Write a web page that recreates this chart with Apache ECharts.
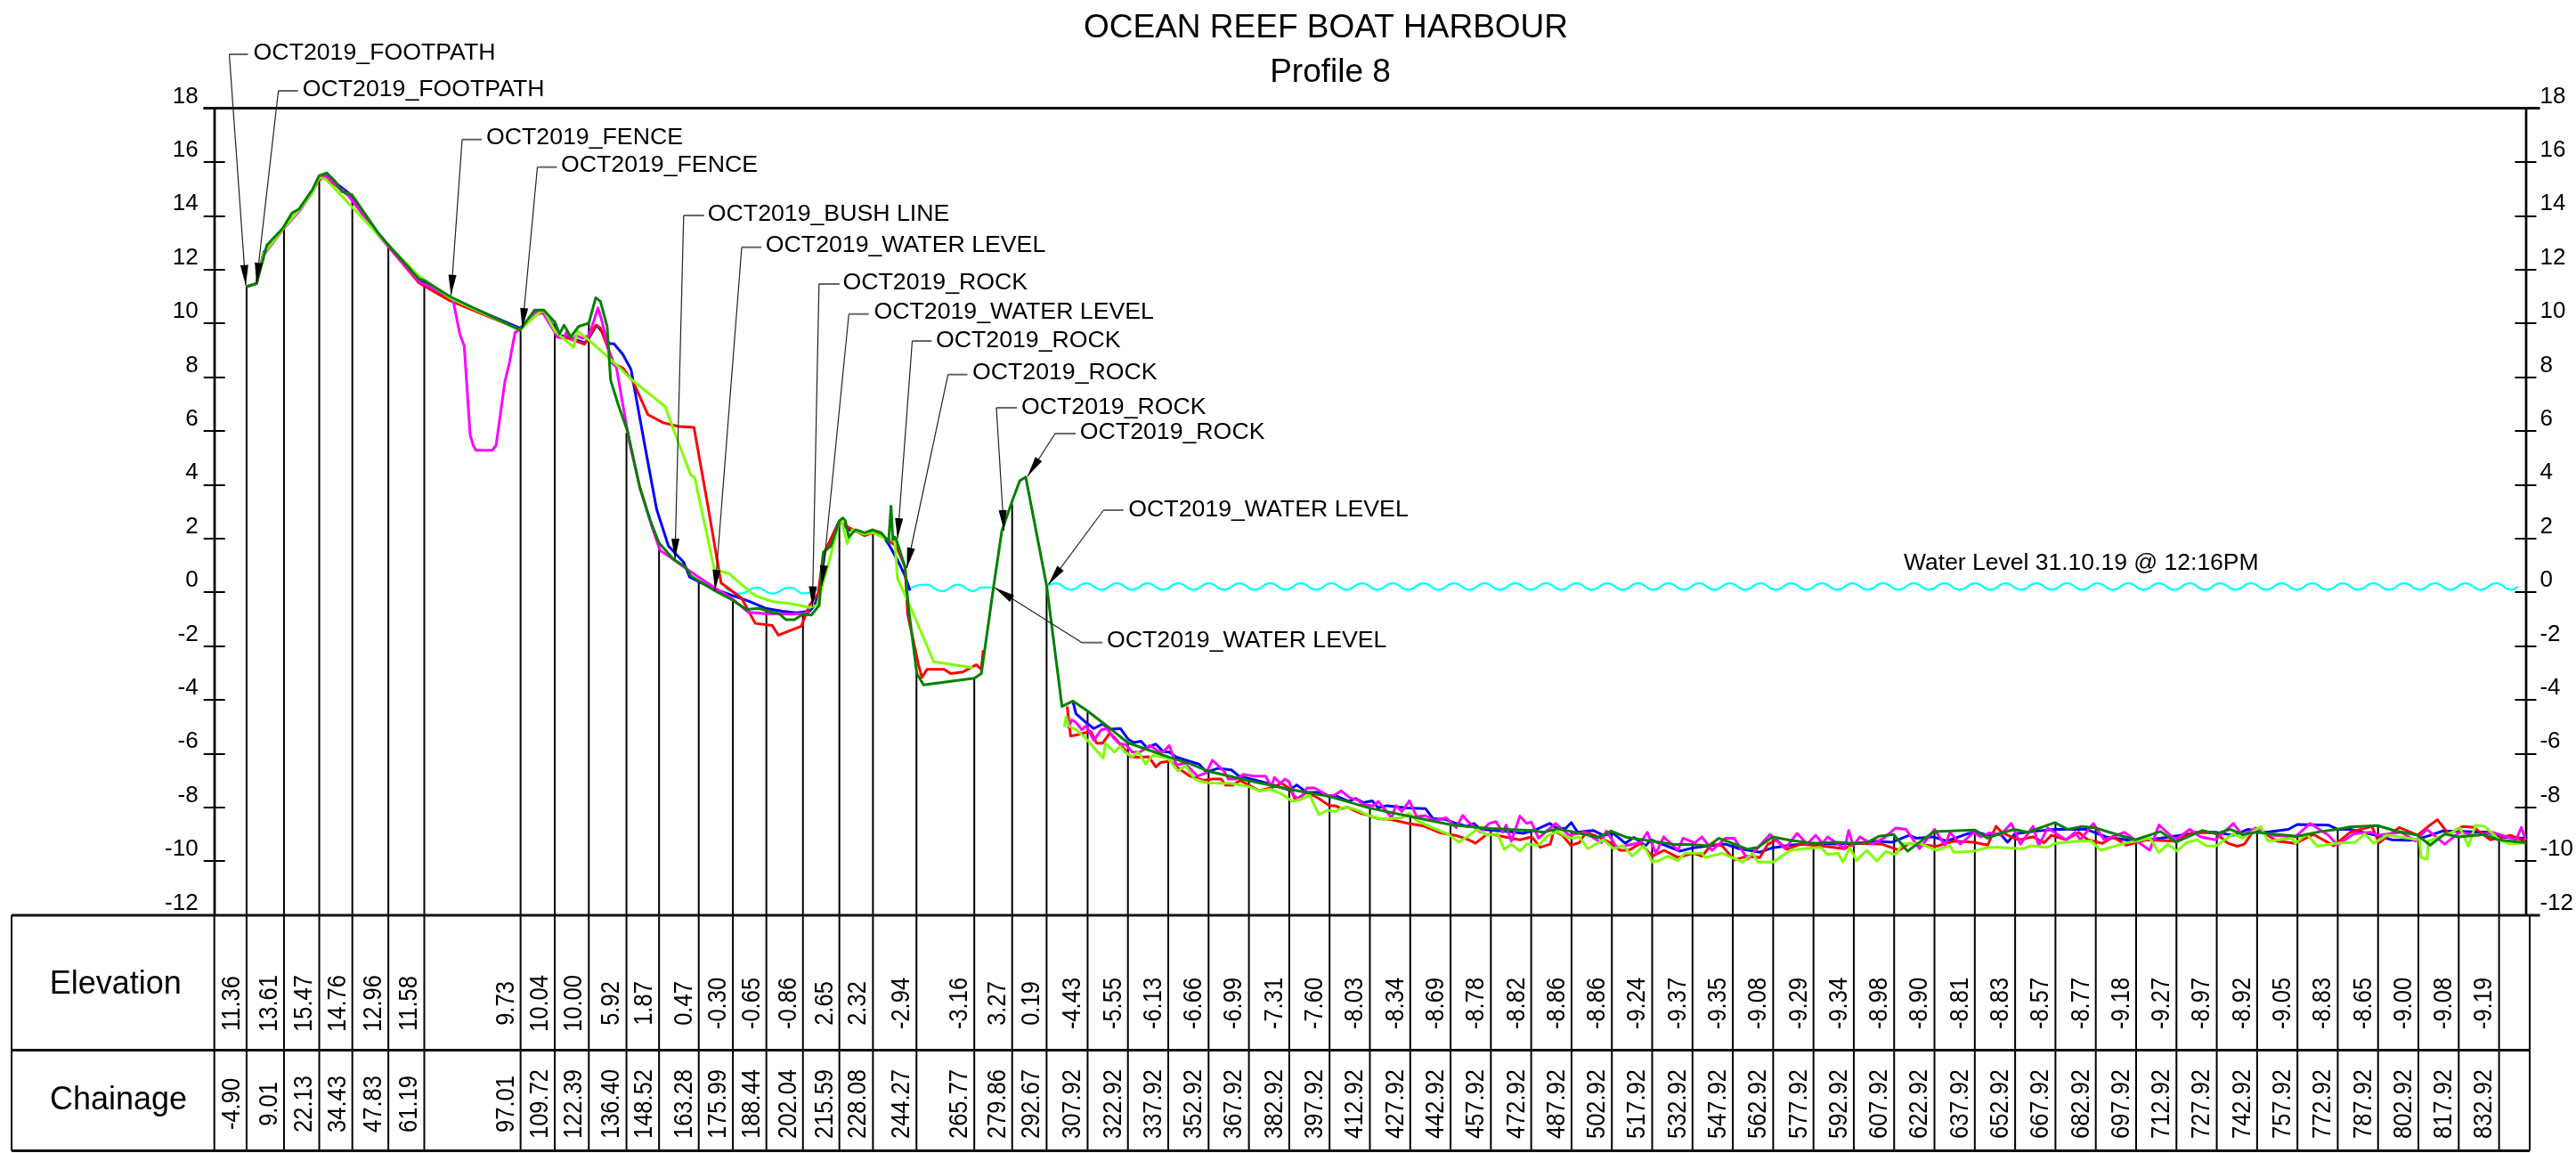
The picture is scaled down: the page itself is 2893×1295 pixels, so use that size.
<!DOCTYPE html>
<html>
<head>
<meta charset="utf-8">
<style>html,body{margin:0;padding:0;background:#fff}#c{width:2893px;height:1295px}</style>
<script src="https://cdn.jsdelivr.net/npm/echarts@6/dist/echarts.min.js"></script>
</head>
<body>
<div id="c"></div>
<script>
const chartTitle = 'OCEAN REEF BOAT HARBOUR';
const chartSubtitle = 'Profile 8';
const rowNames = ['Elevation', 'Chainage'];
const waterNote = 'Water Level 31.10.19 @ 12:16PM';

const chainages = [-4.90,9.01,22.13,34.43,47.83,61.19,97.01,109.72,122.39,136.40,148.52,163.28,175.99,188.44,202.04,215.59,228.08,244.27,265.77,279.86,292.67,307.92,322.92,337.92,352.92,367.92,382.92,397.92,412.92,427.92,442.92,457.92,472.92,487.92,502.92,517.92,532.92,547.92,562.92,577.92,592.92,607.92,622.92,637.92,652.92,667.92,682.92,697.92,712.92,727.92,742.92,757.92,772.92,787.92,802.92,817.92,832.92];
const elevations = [11.36,13.61,15.47,14.76,12.96,11.58,9.73,10.04,10.00,5.92,1.87,0.47,-0.30,-0.65,-0.86,2.65,2.32,-2.94,-3.16,3.27,0.19,-4.43,-5.55,-6.13,-6.66,-6.99,-7.31,-7.60,-8.03,-8.34,-8.69,-8.78,-8.82,-8.86,-8.86,-9.24,-9.37,-9.35,-9.08,-9.29,-9.34,-8.98,-8.90,-8.81,-8.83,-8.57,-8.77,-9.18,-9.27,-8.97,-8.92,-9.05,-8.83,-8.65,-9.00,-9.08,-9.19];

const greenProfile = [[-4.92,11.36],[-1.2,11.48],[0.14,11.98],[2.67,12.91],[8.6,13.54],[11.95,14.1],[14.5,14.24],[19.5,14.96],[22.07,15.49],[24.94,15.59],[27.97,15.29],[30.5,14.9],[34.2,14.79],[44,13.36],[47.9,12.91],[59.2,11.65],[61.2,11.59],[71,10.98],[96.8,9.75],[102.2,10.49],[105.6,10.49],[109.8,10.04],[111.5,9.6],[113.2,9.93],[115.7,9.49],[118.6,9.88],[122.4,10.01],[124.97,10.95],[126.7,10.82],[129.2,9.88],[130.5,7.89],[133.4,6.95],[136.8,5.99],[141.3,3.92],[145.1,2.71],[148.5,1.83],[153.9,1.22],[158.4,0.94],[160.3,0.61],[169.1,0.06],[175.4,-0.27],[181.1,-0.64],[185.6,-0.6],[190.6,-0.74],[193.2,-0.8],[195.7,-1.02],[198.9,-1.02],[202,-0.82],[205.2,-0.85],[208.1,-0.49],[209.6,1.49],[212.4,1.71],[215.6,2.65],[216.9,2.76],[217.8,2.65],[219.1,2.05],[221.6,2.32],[225,2.21],[228.1,2.32],[231.1,2.21],[233.9,1.88],[234.8,3.2],[235.5,1.94],[236.2,2.05],[236.8,1.94],[240,0.94],[241.2,-0.49],[244.4,-3.03],[246.9,-3.45],[265.8,-3.2],[268.4,-3.03],[272.9,0.17],[276,2.27],[279.8,3.37],[282.7,4.14],[284.9,4.28],[292.7,0.23],[298.4,-4.25],[302.5,-4.05],[307.75,-4.41],[315.7,-5.02],[322.85,-5.6],[330,-5.85],[337.7,-6.12],[346.5,-6.4],[353.2,-6.67],[367.5,-7],[382.9,-7.33],[397.9,-7.6],[412.9,-8.03],[427.9,-8.34],[442.9,-8.65],[449,-8.71],[457.7,-8.79],[472.8,-8.86],[477.5,-8.93],[482.6,-8.8],[487.8,-8.9],[497.8,-9.12],[502.6,-8.88],[508.5,-9.12],[517.8,-9.26],[526.2,-9.38],[532.8,-9.38],[538.9,-9.43],[542.7,-9.15],[547.7,-9.34],[553.4,-9.56],[557.2,-9.49],[562.7,-9.1],[569.3,-9.23],[577.7,-9.34],[587,-9.3],[592.8,-9.34],[597.7,-9.32],[602.2,-9.08],[607.7,-9.01],[612.9,-9.63],[622.8,-8.9],[638,-8.85],[642.7,-9.15],[647.4,-8.97],[652.6,-8.82],[657.6,-8.93],[667.7,-8.57],[672.5,-8.82],[677.9,-8.71],[682.9,-8.77],[689.4,-8.97],[697.6,-9.21],[707,-8.9],[712.7,-9.3],[722.6,-8.86],[727.6,-8.99],[732.8,-8.82],[737.5,-9.01],[742.7,-8.93],[750.4,-9.01],[757.9,-9.08],[766.7,-8.9],[772.8,-8.82],[777.5,-8.73],[787.7,-8.68],[794.4,-8.88],[802.6,-9.04],[807.3,-9.41],[812.7,-8.99],[817.7,-9.1],[827.6,-9.01],[832.6,-9.21],[842.8,-9.32]];

const blueProfile = [[-4.92,11.36],[-1.2,11.48],[1.5,12.64],[8.6,13.52],[14.5,14.2],[19.5,14.9],[22.07,15.4],[24.6,15.5],[33,14.85],[44,13.36],[47.9,12.88],[59.2,11.59],[71,10.93],[96.8,9.82],[103,10.38],[105.6,10.43],[109.8,9.82],[111.5,9.55],[116,9.45],[120.8,9.27],[122.4,9.44],[125.3,9.93],[127.5,9.66],[130,9.24],[131.7,9.24],[135,8.85],[138.1,8.28],[140,7.23],[143.8,5.14],[147.6,3.09],[152,1.72],[157.7,1.11],[159.9,0.56],[169.1,0.11],[181.8,-0.33],[188.1,-0.6],[194.4,-0.71],[199.5,-0.77],[204.5,-0.71],[206.4,-0.49],[208.1,-0.05],[210.2,1.49],[215.6,2.65],[219.1,2.32],[221.6,2.27],[225,2.16],[228.1,2.27],[231.1,2.21],[234.3,1.72],[237.4,1.16],[240,0.61],[241.9,0.06],[null,null],[302.5,-4.08],[303.6,-4.52],[307.4,-4.85],[310.2,-5.07],[313.5,-4.9],[316.2,-5.1],[320.1,-5.07],[322.9,-5.46],[325.1,-5.59],[327.8,-5.54],[330,-5.79],[333.3,-5.65],[336.1,-5.93],[338.3,-5.95],[341,-6.14],[345.5,-6.28],[349.3,-6.39],[352.1,-6.69],[356.5,-6.55],[361.4,-6.61],[364.2,-6.84],[368.6,-6.95],[373,-7.06],[378.5,-7.22],[382.9,-7.36],[385.7,-7.17],[389.5,-7.45],[394,-7.45],[397.8,-7.61],[400,-7.56],[405,-7.78],[407.7,-7.67],[410.5,-7.83],[413.8,-7.76],[416,-8.02],[419.3,-7.94],[427,-8.03],[433.6,-8.05],[436.4,-8.42],[441,-8.45],[445,-8.6],[449,-8.71],[451.6,-8.6],[454.1,-8.82],[457.7,-8.85],[464.2,-8.9],[469.9,-8.97],[475,-8.82],[479.8,-8.6],[482.6,-8.79],[485.7,-8.79],[487.8,-8.57],[490.2,-8.93],[495.9,-8.86],[499.7,-9.04],[503.5,-8.97],[507.9,-9.34],[511.1,-9.12],[515.5,-9.43],[517.4,-9.21],[523.7,-9.45],[528.1,-9.63],[532.6,-9.52],[537.6,-9.45],[545.2,-9.37],[550.3,-9.54],[557.9,-9.67],[562.3,-9.52],[569.3,-9.41],[577.7,-9.34],[585.7,-9.37],[593.3,-9.34],[601.5,-9.26],[607.2,-9.3],[613.5,-9.04],[616.1,-9.15],[622.4,-9.1],[627.5,-9.26],[635,-8.99],[638.9,-8.93],[642.7,-9.04],[647.4,-8.99],[650.1,-9.3],[652.8,-8.99],[659.6,-8.9],[667.7,-8.82],[679.3,-8.82],[686.7,-9.1],[697.6,-9.26],[707,-9.15],[722,-8.93],[727.4,-8.93],[734.1,-9.04],[739.6,-8.82],[746.3,-8.93],[754.5,-8.82],[757.9,-8.64],[769.4,-8.66],[772.8,-8.82],[777.5,-8.82],[787,-9.04],[793.1,-9.21],[799.2,-9.23],[802,-9.21],[807.3,-9.04],[812.1,-8.88],[829,-8.93],[833,-9.1],[842.5,-9.15]];

const redProfile = [[-4.92,11.36],[-1.2,11.48],[1.5,12.6],[8.6,13.5],[14.5,14.2],[19.5,14.88],[22.07,15.34],[24.6,15.42],[33,14.75],[44,13.3],[47.9,12.85],[59.2,11.5],[70.1,10.87],[96.8,9.77],[103,10.33],[105.6,10.4],[109.8,9.77],[110.6,9.49],[114.9,9.44],[120.8,9.22],[122.4,9.49],[125,9.93],[126.7,9.82],[129.2,9.16],[131.7,8.5],[135,8.34],[138.8,7.84],[144.4,6.6],[150.1,6.3],[155.8,6.16],[161.5,6.13],[166.6,3.26],[171.6,0.34],[179.2,-0.22],[184.3,-1.16],[190.6,-1.24],[192.9,-1.6],[201.4,-1.27],[204.5,-0.49],[207.7,-0.05],[209.6,1.38],[215.6,2.65],[219.1,2.4],[225,2.1],[228.1,2.21],[231.1,2.18],[234.3,1.88],[236.8,1.72],[240,0.94],[241,-0.82],[245,-2.7],[246.3,-3.17],[248.2,-2.87],[254.5,-2.87],[257,-3.03],[261.5,-2.97],[266.5,-2.7],[268.4,-2.87],[269.1,-2.15],[null,null],[300.3,-4.25],[301.6,-5.35],[304.7,-5.29],[306.9,-5.23],[309.1,-5.18],[311.3,-5.62],[313.5,-5.62],[316.2,-5.23],[318.4,-5.46],[321.2,-5.79],[324,-6.12],[327.3,-6.14],[330.6,-6.12],[333.3,-6.5],[335,-6.34],[338.8,-6.28],[341,-6.5],[346,-6.84],[351,-7],[354.3,-6.95],[357.6,-6.95],[359.2,-7.17],[362,-7.17],[364.7,-7],[368.6,-7.22],[371.9,-7.39],[377,-7.25],[380,-7.1],[383.5,-7.34],[385.1,-7.72],[389.5,-7.45],[393.9,-7.67],[397.8,-7.94],[400,-7.94],[402.2,-8.05],[404.4,-8],[409.4,-8.22],[412.7,-8.31],[416,-8.42],[421,-8.46],[427,-8.6],[433,-8.7],[439,-8.95],[445,-9.05],[449.7,-9.21],[452.2,-9.34],[456,-9.04],[457.9,-8.99],[463,-9.1],[468.7,-9.21],[473.1,-9.1],[476.3,-9.49],[480,-9.37],[481.3,-8.88],[484.5,-9.04],[487.6,-9.41],[490.8,-9.32],[493.3,-8.93],[497.8,-9.1],[502.2,-9.32],[506,-9.6],[509.2,-9.6],[513.6,-9.34],[518,-9.82],[522.4,-9.6],[527.5,-9.87],[533.2,-9.71],[536.4,-9.82],[540.2,-9.37],[543.9,-9.43],[548.4,-9.96],[553.4,-9.82],[557.9,-9.87],[561,-9.37],[564.2,-9.21],[568,-9.56],[573.1,-9.37],[581.9,-9.45],[589.5,-9.54],[593.3,-9.34],[603.4,-9.37],[609.8,-9.6],[613.5,-9.34],[623.7,-9.45],[630,-9.26],[637.6,-9.3],[642.7,-9.41],[645.8,-8.71],[647.4,-8.88],[650.1,-9.04],[654.2,-9.21],[659.6,-9.1],[663.7,-9.32],[666.4,-9.04],[671.8,-9.21],[676.6,-8.93],[679.9,-9.21],[685.4,-9.34],[689.4,-9.1],[694.2,-9.41],[701.6,-9.21],[712.5,-9.26],[719.2,-8.93],[727.4,-8.95],[732.1,-9.34],[735.5,-9.45],[738.2,-9.37],[742.3,-8.77],[750.4,-9.26],[757.2,-9.34],[763.9,-9.01],[771.4,-9.43],[777.5,-8.93],[785.6,-8.71],[788.3,-9.32],[795.8,-8.75],[802.6,-9.04],[806.6,-8.71],[810,-8.46],[814.1,-8.99],[819.5,-8.71],[823.5,-8.75],[829.7,-9.21],[837.1,-9.04],[842.5,-9.26]];

const magentaProfile = [[-4.92,11.36],[-1.2,11.48],[1.5,12.55],[8.6,13.48],[14.5,14.15],[19.5,14.85],[22.07,15.4],[24.6,15.48],[33,14.75],[44,13.3],[47.9,12.85],[59.2,11.55],[71.8,10.93],[74.4,9.6],[76.05,9.16],[78.25,5.85],[79.4,5.46],[80.4,5.28],[86.5,5.28],[87.9,5.46],[91.2,7.84],[92.9,8.55],[94.95,9.66],[96.8,9.77],[102.2,10.38],[104.7,10.49],[109.8,9.66],[110.6,9.49],[113.2,9.44],[114,9.66],[116.5,9.38],[117.7,9.55],[119.9,9.44],[122.4,9.55],[124.1,10.04],[125.8,10.57],[127.5,10],[129.2,9.22],[131.2,8.5],[132.6,8.39],[135,7],[137.5,5.58],[141.3,3.92],[145.7,2.49],[148.9,1.55],[153.9,1.22],[159,0.85],[169.1,0.17],[175.4,-0.22],[181.8,-0.75],[188.1,-0.8],[198.2,-0.82],[204.5,-0.77],[null,null],[300.3,-4.69],[300.8,-5.02],[302,-4.75],[303.6,-4.85],[305.8,-5.12],[307.4,-4.96],[310.2,-5.51],[313,-5.12],[315.1,-5.07],[317.4,-5.4],[319.5,-5.62],[322.3,-5.68],[324.5,-5.95],[327.3,-5.95],[331.1,-5.7],[333.9,-5.9],[336,-5.95],[338.3,-5.7],[341,-6.43],[343.8,-6.36],[346.5,-6.61],[348.8,-6.84],[352.1,-6.72],[354.3,-6.25],[356.5,-6.45],[358.7,-6.67],[360.3,-6.95],[363.1,-6.95],[365.8,-6.78],[369.7,-6.84],[374.1,-6.84],[376.3,-7.22],[377.4,-6.89],[379.6,-7.11],[381.3,-6.95],[382.9,-7.06],[384.6,-7.56],[386.8,-7.72],[389.5,-7.28],[392.3,-7.28],[397.2,-7.56],[399.5,-7.56],[402.2,-7.39],[405.5,-7.65],[408.3,-7.72],[410.5,-7.91],[414.3,-7.94],[416,-7.78],[421,-8.39],[422.6,-7.94],[424.8,-8.16],[427.6,-7.76],[430.3,-8.35],[433.6,-8.31],[436.9,-8.5],[441.3,-8.39],[445,-8.75],[447.5,-8.3],[449,-8.49],[454.1,-8.93],[457.3,-8.6],[459.8,-8.53],[462.3,-8.93],[463.6,-8.66],[465.5,-9.26],[468.7,-8.33],[471.2,-8.6],[473,-8.55],[475.6,-9.15],[482,-8.6],[487,-9.04],[492.7,-8.93],[499,-9.32],[500.9,-8.88],[504.7,-9.49],[513.6,-9.32],[516.1,-8.93],[519.3,-9.71],[522.2,-9.1],[527.5,-9.6],[529.4,-9.15],[533.8,-9.32],[536.4,-9.1],[540.2,-9.6],[545.2,-9.15],[548.4,-9.15],[553.4,-9.93],[561.7,-9.01],[567.4,-9.54],[571.8,-8.97],[575.6,-9.37],[578.7,-9.04],[581.3,-9.34],[583.2,-9.1],[589.5,-9.54],[591,-8.86],[592.7,-9.43],[595.2,-9.1],[599.6,-9.37],[604.1,-9.15],[608.5,-8.77],[612.3,-8.82],[617.3,-9.54],[623,-8.82],[626.8,-9.43],[628.7,-8.93],[632.5,-9.37],[637.6,-8.93],[640.1,-9.1],[643.5,-8.95],[647.4,-9.04],[651.5,-8.6],[654.9,-9.37],[659.6,-8.71],[661.7,-9.43],[665,-8.77],[671.8,-9.21],[675.2,-8.93],[677.2,-9.21],[682,-8.6],[686,-9.21],[693.5,-8.93],[698.2,-9.26],[703,-9.6],[706.4,-8.66],[712.5,-9.21],[717.9,-8.82],[721.9,-9.1],[727.4,-9.21],[734.1,-8.6],[737.5,-9.04],[742.3,-8.79],[747.7,-9.04],[757.2,-9.1],[762.6,-8.6],[769.4,-9.04],[772.8,-9.41],[778.9,-8.99],[785,-8.93],[788.3,-9.04],[796.5,-8.93],[801.9,-9.26],[806,-8.82],[812.7,-9.37],[818.2,-8.93],[824.9,-9.04],[830.3,-8.93],[835.8,-9.1],[839.2,-9.21],[841.2,-8.75],[842.8,-9.21]];

const limeProfile = [[-4.92,11.36],[-1.2,11.48],[1.5,12.6],[8.6,13.5],[14.5,14.2],[19.5,14.85],[22.07,15.42],[24.6,15.35],[30.5,14.73],[44,13.3],[47.9,12.9],[59.2,11.76],[71,10.93],[96.8,9.75],[103,10.32],[105.6,10.49],[109.8,9.71],[112.3,9.49],[116.7,9.11],[118.2,9.71],[122.4,9.38],[133.4,8.39],[138.5,7.89],[150.8,6.9],[155.2,5.7],[160.3,4.36],[161.8,4.25],[169.1,0.83],[171,0.78],[174.4,0.7],[181.8,0.06],[184.9,-0.16],[191.3,-0.36],[197,-0.42],[204.5,-0.57],[207.3,-0.49],[212.1,1.27],[215.6,2.65],[216.6,2.6],[218.5,1.8],[220.4,2.32],[224.8,2.16],[228.1,2.21],[232.4,2],[236.2,1.94],[237.2,0.5],[240.6,-0.22],[250.7,-2.59],[265.3,-2.81],[null,null],[299.2,-5.02],[300,-4.63],[300.8,-4.97],[303.6,-5.12],[306.9,-5.4],[313.7,-6.17],[314.6,-5.62],[316.2,-5.79],[317.9,-5.95],[320.1,-5.73],[321.8,-5.95],[324.5,-6.12],[326.7,-5.95],[329.5,-6.39],[332.2,-6.06],[335,-6.12],[337.7,-6.17],[341.6,-6.65],[344.3,-6.45],[347.7,-6.95],[352.1,-7.09],[357.6,-7.11],[360.9,-7.11],[367.5,-7.22],[371.9,-7.39],[375.8,-7.33],[380,-7.5],[384,-7.78],[386.8,-7.72],[390.6,-7.56],[393.9,-8.27],[397.2,-8.11],[400,-8.16],[402.8,-8],[406.6,-8.05],[409.4,-8.16],[412.7,-8.31],[418,-8.45],[424.8,-8.39],[427.6,-8.22],[430.3,-8.5],[436,-8.75],[442,-9],[446,-9.3],[449,-9.1],[452.8,-8.82],[456.6,-9.04],[460.4,-8.99],[462.9,-9.57],[465.5,-9.37],[468.7,-9.63],[471.2,-9.37],[475.6,-9.41],[479.4,-9.04],[482.6,-8.9],[487,-9.15],[490.8,-9.1],[494,-9.54],[499.7,-9.21],[503.5,-9.54],[507.3,-9.43],[510.4,-9.82],[514.8,-9.43],[518,-10.04],[520.5,-9.98],[523.7,-9.82],[527.5,-9.98],[530,-9.71],[536.4,-9.71],[537.6,-9.87],[543.9,-9.71],[549,-9.93],[551.5,-10.04],[555.3,-9.71],[557.2,-10.04],[562.9,-10.04],[569.3,-9.6],[574.3,-9.54],[580.6,-9.49],[583.2,-9.76],[587,-9.71],[588.9,-10.04],[591.4,-9.49],[593.9,-9.98],[597.7,-9.6],[601.5,-10],[604.7,-9.65],[608.5,-9.76],[611,-9.37],[617.3,-9.34],[623.7,-9.6],[628.7,-9.43],[630,-9.67],[637.6,-9.63],[642.7,-9.49],[647.4,-9.49],[655.6,-9.54],[659,-9.43],[665,-9.49],[667.7,-9.34],[675.9,-9.26],[681.3,-9.26],[684.7,-9.6],[693.5,-9.34],[703,-9.15],[706.4,-9.68],[709.7,-9.37],[713.1,-9.63],[716.5,-9.32],[720.6,-9.21],[724,-9.43],[727.4,-9.45],[734.1,-8.99],[737.5,-9.15],[744.3,-8.71],[747,-9.26],[755.8,-9.15],[757.2,-9.34],[761.3,-8.99],[765.3,-9.45],[772.1,-9.34],[779.5,-9.3],[782.9,-8.99],[786.3,-9.34],[791.1,-9.04],[803.3,-9.21],[803.9,-9.87],[806.2,-9.93],[806.6,-9.26],[815.4,-8.93],[818.4,-8.77],[821.5,-9.45],[824.2,-8.66],[827.6,-8.71],[833,-9.21],[837.1,-9.37],[842.8,-9.32]];

const waterLineA = [[173,0.17],[178.6,-0.05],[184.9,0.17],[190.6,-0.05],[196.95,0.17],[202.6,-0.05],[207.7,0.12]];
const waterLineB = [[242.3,0.17],[247.6,0.28],[253.9,0.04],[259.6,0.28],[265.3,0.04],[268.4,0.17],[272.9,0.17]];
const waterLineC = [[293.1,0.23],[296,0.33],[301.7,0.09],[307.4,0.33],[313.1,0.09],[318.8,0.33],[324.5,0.09],[330.2,0.33],[335.9,0.09],[341.6,0.33],[347.3,0.09],[353,0.33],[358.7,0.09],[364.4,0.33],[370.1,0.09],[375.8,0.33],[381.5,0.09],[387.2,0.33],[392.9,0.09],[398.6,0.33],[404.3,0.09],[410,0.33],[415.7,0.09],[421.4,0.33],[427.1,0.09],[432.8,0.33],[438.5,0.09],[444.2,0.33],[449.9,0.09],[455.6,0.33],[461.3,0.09],[467,0.33],[472.7,0.09],[478.4,0.33],[484.1,0.09],[489.8,0.33],[495.5,0.09],[501.2,0.33],[506.9,0.09],[512.6,0.33],[518.3,0.09],[524,0.33],[529.7,0.09],[535.4,0.33],[541.1,0.09],[546.8,0.33],[552.5,0.09],[558.2,0.33],[563.9,0.09],[569.6,0.33],[575.3,0.09],[581,0.33],[586.7,0.09],[592.4,0.33],[598.1,0.09],[603.8,0.33],[609.5,0.09],[615.2,0.33],[620.9,0.09],[626.6,0.33],[632.3,0.09],[638,0.33],[643.7,0.09],[649.4,0.33],[655.1,0.09],[660.8,0.33],[666.5,0.09],[672.2,0.33],[677.9,0.09],[683.6,0.33],[689.3,0.09],[695,0.33],[700.7,0.09],[706.4,0.33],[712.1,0.09],[717.8,0.33],[723.5,0.09],[729.2,0.33],[734.9,0.09],[740.6,0.33],[746.3,0.09],[752,0.33],[757.7,0.09],[763.4,0.33],[769.1,0.09],[774.8,0.33],[780.5,0.09],[786.2,0.33],[791.9,0.09],[797.6,0.33],[803.3,0.09],[809,0.33],[814.7,0.09],[820.4,0.33],[826.1,0.09],[831.8,0.33],[837.5,0.09],[839.8,0.2]];

const calloutTexts = ['OCT2019_FOOTPATH','OCT2019_FOOTPATH','OCT2019_FENCE','OCT2019_FENCE','OCT2019_BUSH LINE','OCT2019_WATER LEVEL','OCT2019_ROCK','OCT2019_WATER LEVEL','OCT2019_ROCK','OCT2019_ROCK','OCT2019_ROCK','OCT2019_ROCK','OCT2019_WATER LEVEL','OCT2019_WATER LEVEL'];

/* ---- layout (pixels) ---- */
const FONT = '"Liberation Sans", Arial, sans-serif';
const L = {axisL:240.7, axisR:2841, top:121.5, tableTop:1028, rowSplit:1179.5, tableBottom:1292.5, tableL:13, tableR2:2852.5};
// text x, text y, shoulder right x, shoulder left x, shoulder y, tip x, tip y
const calloutLayout = [
 [284.6,60,278.5,257.5,61,276,320.7],
 [339.7,101,334.6,312.6,102,288,318],
 [546,155,541,519,156.7,506.5,331.7],
 [630,186,625.4,603.5,187.7,586.6,369],
 [794.8,241,790.7,767.8,242,758,628],
 [859.8,276,855,833,277.7,803,663],
 [946.5,318,942.8,919.8,319,912.4,681.7],
 [981.5,351,975.5,953.3,352.7,923,658],
 [1051,383,1046.3,1024.5,383,1008,605],
 [1092,419,1086.5,1064.7,420.7,1018.4,638],
 [1147,457.7,1142,1119,458,1127.5,596],
 [1212.8,486,1208,1185,487,1154,535],
 [1267.3,572.7,1261.7,1239.3,573,1177.3,656.7],
 [1243,720,1238,1215,721.7,1117,660]
];

function lineEl(x1,y1,x2,y2,w,c){return {type:'line',shape:{x1,y1,x2,y2},silent:true,z:20,style:{stroke:c||'#000',lineWidth:w||2}};}
function textEl(t,x,y,size,align,extra){return Object.assign({type:'text',x,y,silent:true,z:21,style:{text:t,fontSize:size,fontFamily:FONT,fill:'#000',align:align||'left',verticalAlign:'middle'}},extra||{});}

const graphics = [
 textEl(chartTitle,1489,31.5,37,'center'),
 textEl(chartSubtitle,1494,81.5,37,'center'),
 textEl(rowNames[0],129.7,1106,36,'center'),
 textEl(rowNames[1],133,1236,36,'center'),
 textEl(waterNote,2138,633,26.5,'left'),
 lineEl(228.5,L.top,2852.5,L.top,3,'#111'),
 lineEl(L.tableL,L.tableTop,L.tableR2,L.tableTop,3,'#111'),
 lineEl(L.tableL,L.rowSplit,L.axisR,L.rowSplit,3,'#111'),
 lineEl(L.tableL,L.tableBottom,L.axisR,L.tableBottom,3,'#111'),
 lineEl(L.tableL,L.tableTop,L.tableL,L.tableBottom,2),
 lineEl(L.axisL,L.tableTop,L.axisL,L.tableBottom,2),
 lineEl(L.axisR,L.tableTop,L.axisR,L.tableBottom,2)
];
calloutTexts.forEach(function(t,i){
  const a = calloutLayout[i];
  graphics.push(textEl(t,a[0],a[1],26.7,'left'));
  graphics.push(lineEl(a[2],a[4],a[3],a[4],2,'#666'));
  graphics.push(lineEl(a[3],a[4],a[5],a[6],1.2,'#222'));
  const dx=a[3]-a[5], dy=a[4]-a[6], len=Math.hypot(dx,dy), ux=dx/len, uy=dy/len;
  const bx=a[5]+ux*23, by=a[6]+uy*23;
  graphics.push({type:'polygon',silent:true,z:22,shape:{points:[[a[5],a[6]],[bx-uy*4.5,by+ux*4.5],[bx+uy*4.5,by-ux*4.5]]},style:{fill:'#000'}});
});

function curve(name,data,color){
  return {name,type:'line',data,symbol:'none',showSymbol:false,connectNulls:false,clip:false,silent:true,animation:false,
    lineStyle:{color,width:3,join:'round'},itemStyle:{color}};
}
function water(name,data){
  return {name,type:'line',data,symbol:'none',showSymbol:false,smooth:0.55,clip:false,silent:true,animation:false,
    lineStyle:{color:'#00ffff',width:2.2},itemStyle:{color:'#00ffff'}};
}

const columns = chainages.map(function(c,i){return [c,elevations[i]];});

const yBase = {type:'value',min:-12,max:18,interval:2,splitLine:{show:false},
  axisLine:{show:true,onZero:false,lineStyle:{color:'#000',width:2.4}},
  axisTick:{show:true,length:12,lineStyle:{color:'#000',width:2}}};

const option = {
  animation:false,
  backgroundColor:'#fff',
  textStyle:{fontFamily:FONT},
  grid:{left:L.axisL,right:2893-L.axisR,top:L.top,bottom:1295-L.tableTop+0.5,containLabel:false},
  xAxis:{type:'value',min:-16.9,max:842.8,show:false},
  yAxis:[
    Object.assign({},yBase,{position:'left',axisLabel:{show:true,margin:18,fontSize:26,fontFamily:FONT,color:'#000',verticalAlign:'bottom',padding:[0,0,0,0],showMinLabel:true,showMaxLabel:true}}),
    Object.assign({},yBase,{position:'right',axisLabel:{show:true,margin:16,fontSize:26,fontFamily:FONT,color:'#000',verticalAlign:'bottom',padding:[0,0,0,0],showMinLabel:true,showMaxLabel:true}}),
    Object.assign({},yBase,{position:'left',axisLabel:{show:false},axisTick:{show:true,inside:true,length:12,lineStyle:{color:'#000',width:2}}}),
    Object.assign({},yBase,{position:'right',axisLabel:{show:false},axisTick:{show:true,inside:true,length:12,lineStyle:{color:'#000',width:2}}})
  ],
  graphic:{elements:graphics},
  series:[
    {name:'Stations',type:'custom',data:columns,clip:false,silent:true,animation:false,encode:{x:0,y:1},
     renderItem:function(params,api){
       const c=api.value(0), e=api.value(1);
       const top=api.coord([c,e]);
       const elevLabel=e.toFixed(2), chainLabel=c.toFixed(2);
       const tx=top[0]-16;
       const mk=function(t,y){return {type:'text',x:tx,y:y,rotation:Math.PI/2,scaleY:1.12,silent:true,style:{text:t,fontSize:25.5,fontFamily:FONT,fill:'#000',align:'center',verticalAlign:'middle'}};};
       return {type:'group',children:[
         {type:'line',shape:{x1:top[0],y1:top[1],x2:top[0],y2:L.tableBottom},silent:true,style:{stroke:'#000',lineWidth:2}},
         mk(elevLabel,1127),
         mk(chainLabel,1240)
       ]};
     }},
    water('Water level 1',waterLineA),
    water('Water level 2',waterLineB),
    water('Water level 3',waterLineC),
    curve('Blue survey',blueProfile,'#0000ff'),
    curve('Red survey',redProfile,'#ff0000'),
    curve('Magenta survey',magentaProfile,'#ff00ff'),
    curve('Lime survey',limeProfile,'#7fff00'),
    curve('Green survey',greenProfile,'#008000')
  ]
};
const chart = echarts.init(document.getElementById('c'),null,{renderer:'canvas'});
chart.setOption(option);
</script>
</body>
</html>
